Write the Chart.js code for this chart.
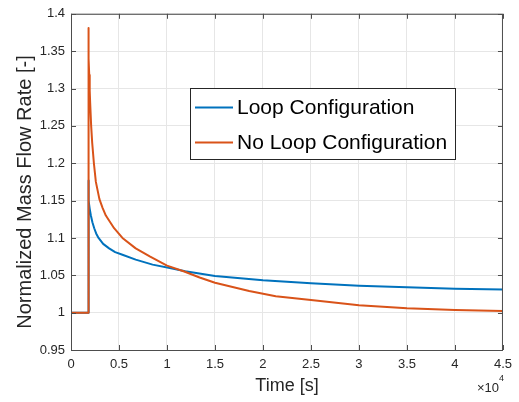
<!DOCTYPE html>
<html>
<head>
<meta charset="utf-8">
<script src="https://cdn.jsdelivr.net/npm/chart.js@4.4.1/dist/chart.umd.min.js"></script>
<style>
  body { margin: 0; background: #fff; }
  canvas { display: block; }
</style>
</head>
<body>
<canvas id="flowChart" width="519" height="402"></canvas>
<script>
// data (time in s, flow normalized)
const seriesNames = ['Loop Configuration', 'No Loop Configuration'];
const seriesColors = ['#0072BD', '#D95319'];

const loopTime = [0, 1800, 1800, 1830, 1870, 1950, 2070, 2230, 2420, 2620, 2870, 3350, 3970, 4600, 5360, 6740, 8500, 10540, 11900, 15000, 20000, 25000, 30000, 35000, 40000, 45000];
const loopFlow = [1, 1, 1.177, 1.162, 1.150, 1.139, 1.130, 1.121, 1.113, 1.106, 1.100, 1.092, 1.086, 1.081, 1.0775, 1.071, 1.0643, 1.059, 1.0554, 1.049, 1.0434, 1.0394, 1.036, 1.034, 1.032, 1.031];

const noLoopTime = [0, 1800, 1800, 1830, 1860, 1900, 1950, 2000, 2100, 2210, 2385, 2590, 2960, 3300, 3630, 4490, 5360, 6740, 8250, 10000, 11800, 13400, 15000, 18560, 21330, 25000, 30000, 35000, 40000, 45000];
const noLoopFlow = [1, 1, 1.381, 1.36, 1.34, 1.318, 1.297, 1.28, 1.25, 1.227, 1.20, 1.175, 1.152, 1.14, 1.130, 1.113, 1.100, 1.086, 1.075, 1.063, 1.055, 1.047, 1.040, 1.029, 1.022, 1.017, 1.010, 1.006, 1.0036, 1.0023];

const xLabel = 'Time [s]';
const yLabel = 'Normalized Mass Flow Rate [-]';

const font = "'Liberation Sans', Arial, Helvetica, sans-serif";
const axisColor = '#4d4d4d';
const textColor = '#262626';

function toPoints(xs, ys) {
  var pts = [];
  for (var i = 0; i < xs.length; i++) {
    pts.push({ x: xs[i], y: ys[i] });
  }
  return pts;
}

// box, inward ticks, axis titles, exponent and legend (matlab look)
const matlabLook = {
  id: 'matlabLook',
  afterDraw: function (chart) {
    const ctx = chart.ctx;
    const a = chart.chartArea;
    const xs = chart.scales.x;
    const ys = chart.scales.y;
    ctx.save();

    ctx.strokeStyle = axisColor;
    ctx.lineWidth = 1;
    ctx.strokeRect(a.left + 0.5, a.top + 0.5, a.right - a.left - 1, a.bottom - a.top);

    ctx.beginPath();
    xs.ticks.forEach(function (t) {
      var px = Math.round(xs.getPixelForValue(t.value)) + 0.5;
      ctx.moveTo(px, a.bottom); ctx.lineTo(px, a.bottom - 5);
      ctx.moveTo(px, a.top); ctx.lineTo(px, a.top + 5);
    });
    ys.ticks.forEach(function (t) {
      var py = Math.round(ys.getPixelForValue(t.value)) + 0.5;
      ctx.moveTo(a.left, py); ctx.lineTo(a.left + 5, py);
      ctx.moveTo(a.right, py); ctx.lineTo(a.right - 5, py);
    });
    ctx.stroke();

    // axis titles
    ctx.fillStyle = textColor;
    ctx.textAlign = 'center';
    ctx.textBaseline = 'middle';
    ctx.font = '18px ' + font;
    ctx.fillText(xLabel, (a.left + a.right) / 2, 386);

    ctx.save();
    ctx.translate(25, 192);
    ctx.rotate(-Math.PI / 2);
    ctx.font = '20px ' + font;
    ctx.fillText(yLabel, 0, 0);
    ctx.restore();

    // x10^4
    ctx.textAlign = 'right';
    ctx.font = '13px ' + font;
    ctx.fillText('\u00d710', 499, 388);
    ctx.textAlign = 'left';
    ctx.font = '9px ' + font;
    ctx.fillText('4', 499, 379);

    // legend
    ctx.fillStyle = '#fff';
    ctx.fillRect(190, 88, 265, 71);
    ctx.strokeStyle = '#262626';
    ctx.strokeRect(190.5, 88.5, 265, 71);
    var rows = [107.5, 142.5];
    ctx.font = '21px ' + font;
    ctx.textBaseline = 'middle';
    for (var i = 0; i < seriesNames.length; i++) {
      ctx.strokeStyle = seriesColors[i];
      ctx.lineWidth = 2;
      ctx.beginPath();
      ctx.moveTo(195, rows[i]);
      ctx.lineTo(233, rows[i]);
      ctx.stroke();
      ctx.fillStyle = '#000';
      ctx.fillText(seriesNames[i], 237, rows[i] + 1);
    }
    ctx.restore();
  }
};

let flowChart = new Chart(document.getElementById('flowChart').getContext('2d'), {
  type: 'line',
  data: {
    datasets: [{
      label: seriesNames[0],
      data: toPoints(loopTime, loopFlow),
      borderColor: seriesColors[0],
      borderWidth: 2,
      order: 1
    }, {
      label: seriesNames[1],
      data: toPoints(noLoopTime, noLoopFlow),
      borderColor: seriesColors[1],
      borderWidth: 2,
      order: 0
    }]
  },
  options: {
    responsive: false,
    animation: false,
    events: [],
    elements: {
      point: { radius: 0 },
      line: { tension: 0, borderJoinStyle: 'round' }
    },
    layout: {
      padding: { left: 0, top: 9, right: 14, bottom: 0 }
    },
    plugins: {
      legend: { display: false },
      tooltip: { enabled: false }
    },
    scales: {
      x: {
        type: 'linear',
        min: 0,
        max: 45000,
        afterFit: function (scale) { scale.height = 52; },
        grid: { color: '#e6e6e6', drawTicks: false },
        border: { display: false },
        ticks: {
          stepSize: 5000,
          padding: 7,
          color: textColor,
          font: { family: font, size: 13 },
          maxRotation: 0,
          callback: function (v) { return parseFloat((v / 10000).toFixed(2)).toString(); }
        }
      },
      y: {
        min: 0.95,
        max: 1.4,
        afterFit: function (scale) { scale.width = 71; },
        grid: { color: '#e6e6e6', drawTicks: false },
        border: { display: false },
        ticks: {
          stepSize: 0.05,
          padding: 6,
          color: textColor,
          font: { family: font, size: 13 },
          callback: function (v) { return parseFloat(v.toFixed(2)).toString(); }
        }
      }
    }
  },
  plugins: [matlabLook]
});
</script>
</body>
</html>
